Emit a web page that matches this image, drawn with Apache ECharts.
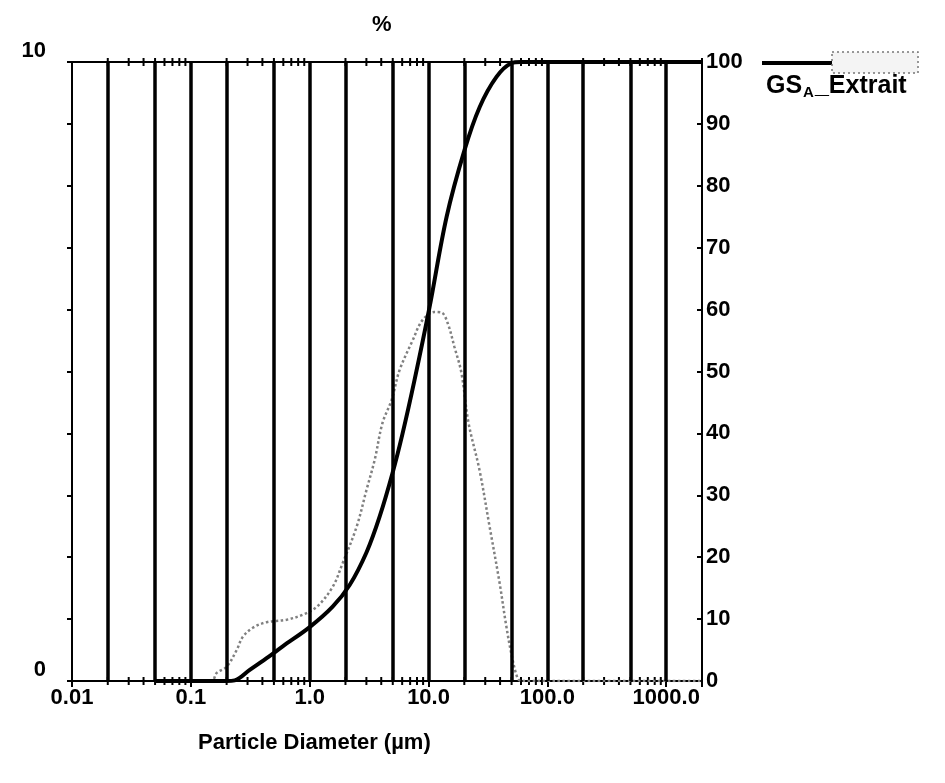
<!DOCTYPE html>
<html><head><meta charset="utf-8">
<script src="https://cdn.jsdelivr.net/npm/echarts@6/dist/echarts.min.js"></script>
<style>html,body{margin:0;padding:0;background:#fff}#c{width:945px;height:783px}</style>
</head><body><div id="c"></div>
<script>
// Cumulative volume (%) – right axis
const cumSizes  = [0.05, 0.1, 0.2, 0.234, 0.313, 0.45, 0.593, 1.0, 1.56, 2.17, 3.01, 3.87, 4.98, 6.05, 7.62, 10.2, 14.2, 20.1, 26.9, 37.3, 49.8, 60, 2000];
const cumValues = [0,    0,   0,   0.1,   1.8,   3.9,  5.6,   8.7, 12.0, 15.5, 20.8, 26.5, 33.6, 40.0, 48.6, 60.4, 75.0, 85.8, 92.7, 97.6, 99.8, 100, 100];
// Differential volume (%) – left axis
const diffSizes  = [0.05, 0.1, 0.15, 0.165, 0.2, 0.243, 0.273, 0.332, 0.435, 0.64, 0.87, 1.15, 1.56, 1.89, 2.48, 3.01, 3.52, 4.1, 4.89, 5.7, 7.34, 8.9, 11.2, 12.9, 14.5, 16.5, 18.9, 21.7, 26.9, 32.6, 39.5, 45, 50, 56, 60, 2000];
const diffValues = [0,    0,   0,    0.13,  0.23, 0.5,  0.71,  0.86,  0.95,  0.99, 1.07, 1.2,  1.52, 1.9,  2.49, 3.09, 3.57, 4.17, 4.54, 5.02, 5.5, 5.83, 5.96, 5.95, 5.78, 5.4,  4.98, 4.17, 3.4,  2.5,  1.6,  0.9, 0.42, 0.05, 0, 0];
// Axis decoration
const xTickLabels = ['0.01', '0.1', '1.0', '10.0', '100.0', '1000.0'];
const gridLineSizes = [0.02, 0.05, 0.1, 0.2, 0.5, 1, 2, 5, 10, 20, 50, 100, 200, 500, 1000];
const minorTickSizes = [0.02,0.03,0.04,0.05,0.06,0.07,0.08,0.09, 0.2,0.3,0.4,0.5,0.6,0.7,0.8,0.9, 2,3,4,5,6,7,8,9, 20,30,40,50,60,70,80,90, 200,300,400,500,600,700,800,900, 2000];
const leftTicks = [0, 10];

const FONT = '"Liberation Sans", Arial, sans-serif';
const chart = echarts.init(document.getElementById('c'), null, {renderer: 'canvas'});
chart.setOption({
  animation: false,
  backgroundColor: '#fff',
  grid: {left: 72, right: 243, top: 62, bottom: 102, show: true, borderColor: '#000', borderWidth: 2, backgroundColor: 'transparent'},
  xAxis: {
    type: 'log', logBase: 10, min: 0.01, max: 2000,
    axisLine: {show: true, lineStyle: {color: '#000', width: 2}},
    axisTick: {show: true, length: 6, lineStyle: {color: '#000', width: 2}},
    splitLine: {show: false},
    axisLabel: {
      color: '#000', fontFamily: FONT, fontSize: 22, fontWeight: 'bold', margin: 6,
      formatter: v => { const e = Math.log10(v); const r = Math.round(e); return Math.abs(e - r) < 1e-6 ? (xTickLabels[r + 2] || '') : ''; }
    }
  },
  yAxis: [
    {
      type: 'value', min: 0, max: 10, interval: 1, position: 'left',
      axisLine: {show: true, lineStyle: {color: '#000', width: 2}},
      axisTick: {show: true, length: 5, lineStyle: {color: '#000', width: 2}},
      splitLine: {show: false},
      axisLabel: {color: '#000', fontFamily: FONT, fontSize: 22, fontWeight: 'bold', margin: 26, verticalAlign: 'bottom',
        formatter: v => leftTicks.includes(v) ? String(v) : ''}
    },
    {
      type: 'value', min: 0, max: 100, interval: 10, position: 'right',
      axisLine: {show: true, lineStyle: {color: '#000', width: 2}},
      axisTick: {show: true, inside: true, length: 5, lineStyle: {color: '#000', width: 2}},
      splitLine: {show: false},
      axisLabel: {color: '#000', fontFamily: FONT, fontSize: 22, fontWeight: 'bold', margin: 4}
    }
  ],
  series: [
    {
      type: 'custom', xAxisIndex: 0, yAxisIndex: 0, z: 1, silent: true,
      data: minorTickSizes.map(s => [s, 0]),
      renderItem: (params, api) => {
        const x = api.coord([api.value(0), 0])[0];
        const cs = params.coordSys;
        return {type: 'group', children: [
          {type: 'line', shape: {x1: x, y1: cs.y - 4, x2: x, y2: cs.y + 4}, style: {stroke: '#000', lineWidth: 2}},
          {type: 'line', shape: {x1: x, y1: cs.y + cs.height - 4, x2: x, y2: cs.y + cs.height + 4}, style: {stroke: '#000', lineWidth: 2}}
        ]};
      },
      markLine: {
        silent: true, symbol: ['none', 'none'], label: {show: false},
        lineStyle: {color: '#000', width: 3.5, type: 'solid'},
        data: gridLineSizes.map(s => ({xAxis: s}))
      }
    },
    {
      name: 'diff', type: 'line', xAxisIndex: 0, yAxisIndex: 0, z: 3,
      data: diffSizes.map((s, i) => [s, diffValues[i]]),
      smooth: 0.35, showSymbol: false, symbol: 'none',
      lineStyle: {color: '#808080', width: 2.5, type: 'dotted'}
    },
    {
      name: 'cum', type: 'line', xAxisIndex: 0, yAxisIndex: 1, z: 4,
      data: cumSizes.map((s, i) => [s, cumValues[i]]),
      smooth: 0.35, showSymbol: false, symbol: 'none',
      lineStyle: {color: '#000', width: 4}
    }
  ],
  graphic: [
    {type: 'text', left: 372, top: 14, style: {text: '%', fontFamily: FONT, fontSize: 22, fontWeight: 'bold', fill: '#000'}},
    {type: 'text', left: 198, top: 732, style: {text: 'Particle Diameter (µm)', fontFamily: FONT, fontSize: 22, fontWeight: 'bold', fill: '#000'}},
    {type: 'line', shape: {x1: 762, y1: 63, x2: 832, y2: 63}, style: {stroke: '#000', lineWidth: 4}},
    {type: 'rect', shape: {x: 832, y: 52, width: 86, height: 21}, style: {fill: '#f4f4f4', stroke: '#777', lineWidth: 1.5, lineDash: [2, 3]}},
    {type: 'text', left: 766, top: 74, style: {
      rich: {a: {fontFamily: FONT, fontSize: 25, fontWeight: 'bold', fill: '#000'}, s: {fontFamily: FONT, fontSize: 15, fontWeight: 'bold', fill: '#000', verticalAlign: 'bottom', padding: [13, 1, 0, 1]}},
      text: '{a|GS}{s|A}{a|_Extrait}'
    }}
  ]
});
</script>
</body></html>
